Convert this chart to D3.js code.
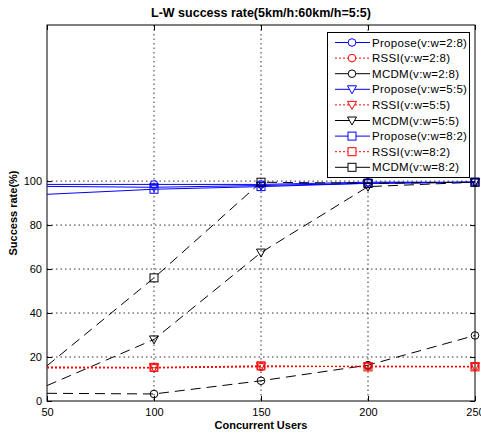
<!DOCTYPE html>
<html><head><meta charset="utf-8">
<script src="https://cdn.jsdelivr.net/npm/d3@7"></script>
<style>body{margin:0;background:#fff}svg{display:block}text{font-family:"Liberation Sans",Arial,sans-serif}</style>
</head><body><svg id="c" width="481" height="435"></svg>
<script>
const users = [50, 100, 150, 200, 250];
const xTicks = [50, 100, 150, 200, 250];
const yTicks = [0, 20, 40, 60, 80, 100];
const titleText = "L-W success rate(5km/h:60km/h=5:5)";
const xLabel = "Concurrent Users";
const yLabel = "Success rate(%)";

const propose28 = [98.5, 98.5, 98.5, 99.5, 99.5];
const rssi28    = [15.2, 15.0, 15.5, 15.8, 15.6];
const mcdm28    = [3.5, 3.2, 9.2, 16.3, 29.8];
const propose55 = [97.6, 97.2, 98, 99, 99.5];
const rssi55    = [15.0, 15.2, 15.8, 15.8, 15.8];
const mcdm55    = [7, 28, 67.5, 97.5, 99.5];
const propose82 = [94, 96.3, 97.5, 99, 99.5];
const rssi82    = [15.5, 15.3, 16, 15.5, 15.5];
const mcdm82    = [16, 56, 99.5, 99, 99.5];

const seriesNames = ["Propose(v:w=2:8)","RSSI(v:w=2:8)","MCDM(v:w=2:8)",
  "Propose(v:w=5:5)","RSSI(v:w=5:5)","MCDM(v:w=5:5)",
  "Propose(v:w=8:2)","RSSI(v:w=8:2)","MCDM(v:w=8:2)"];
const seriesValues = [propose28, rssi28, mcdm28, propose55, rssi55, mcdm55, propose82, rssi82, mcdm82];
const seriesColor = ["#0000ff","#ff0000","#000000","#0000ff","#ff0000","#000000","#0000ff","#ff0000","#000000"];
const seriesMarker = ["circle","circle","circle","triangle","triangle","triangle","square","square","square"];
const seriesDash = [null,"2,2","10,6",null,"2,2","10,6",null,"2,2","10,6"];
const legendDash = [null,"2,2",null,null,"2,2",null,null,"2,2",null];

const svg = d3.select("#c");
const L = 47, R = 475, T = 25, B = 401;
const x = d3.scaleLinear().domain([50, 250]).range([L, R]);
const y = d3.scaleLinear().domain([0, 171]).range([B, T]);

// grid
const g = svg.append("g");
g.selectAll(".hg").data(yTicks.filter(v => v > 0)).join("line")
  .attr("x1", L).attr("x2", R).attr("y1", d => y(d)).attr("y2", d => y(d))
  .attr("stroke", "#000").attr("stroke-width", 1).attr("stroke-dasharray", "1.5,3").attr("opacity", 0.8);
g.selectAll(".vg").data(xTicks.filter(v => v > 50 && v < 250)).join("line")
  .attr("y1", T).attr("y2", B).attr("x1", d => x(d)).attr("x2", d => x(d))
  .attr("stroke", "#000").attr("stroke-width", 1).attr("stroke-dasharray", "1.5,3").attr("opacity", 0.8);

// axes
const ax = svg.append("g").attr("transform", `translate(0,${B})`)
  .call(d3.axisBottom(x).tickValues(xTicks).tickSize(-5).tickPadding(7).tickFormat(d3.format("d")));
const ay = svg.append("g").attr("transform", `translate(${L},0)`)
  .call(d3.axisLeft(y).tickValues(yTicks).tickSize(-5).tickPadding(5));
svg.append("g").attr("transform", `translate(0,${T})`)
  .call(d3.axisTop(x).tickValues(xTicks).tickSize(-5).tickFormat(""));
svg.append("g").attr("transform", `translate(${R},0)`)
  .call(d3.axisRight(y).tickValues(yTicks).tickSize(-5).tickFormat(""));
svg.selectAll(".domain").remove();
svg.selectAll(".tick line").attr("stroke", "#000");
svg.selectAll(".tick text").attr("font-size", 11).attr("fill", "#000")
  .attr("font-family", '"Liberation Sans",Arial,sans-serif');
svg.append("rect").attr("x", L).attr("y", T).attr("width", R - L).attr("height", B - T)
  .attr("fill", "none").attr("stroke", "#000").attr("stroke-width", 1);

// markers
function drawMarker(sel, type, color) {
  if (type === "circle") {
    sel.append("circle").attr("r", 3.8).attr("fill", "none").attr("stroke", color).attr("stroke-width", 1);
  } else if (type === "triangle") {
    sel.append("path").attr("d", "M-4.5,-3.5L4.5,-3.5L0,4.5Z").attr("fill", "none").attr("stroke", color).attr("stroke-width", 1);
  } else {
    sel.append("rect").attr("x", -4).attr("y", -4).attr("width", 8).attr("height", 8)
      .attr("fill", "none").attr("stroke", color).attr("stroke-width", 1);
  }
}

const line = d3.line().x(d => x(d.x)).y(d => y(d.v));
seriesValues.forEach((vals, i) => {
  const pts = users.map((u, k) => ({x: u, v: vals[k]}));
  svg.append("path").datum(pts).attr("d", line).attr("fill", "none")
    .attr("stroke", seriesColor[i]).attr("stroke-width", 1)
    .attr("stroke-dasharray", seriesDash[i]);
  pts.filter(p => p.x > 50).forEach(p => {
    const m = svg.append("g").attr("transform", `translate(${x(p.x)},${y(p.v)})`);
    drawMarker(m, seriesMarker[i], seriesColor[i]);
  });
});

// legend
const lg = svg.append("g");
lg.append("rect").attr("x", 327.5).attr("y", 32.5).attr("width", 142).attr("height", 145)
  .attr("fill", "#fff").attr("stroke", "#000").attr("stroke-width", 1);
seriesNames.forEach((name, i) => {
  const yy = 42.5 + i * 15.6;
  lg.append("line").attr("x1", 335).attr("x2", 370).attr("y1", yy).attr("y2", yy)
    .attr("stroke", seriesColor[i]).attr("stroke-width", 1).attr("stroke-dasharray", legendDash[i]);
  const m = lg.append("g").attr("transform", `translate(352,${yy})`);
  drawMarker(m, seriesMarker[i], seriesColor[i]);
  m.selectAll("*").attr("fill", "#fff");
  lg.append("text").attr("x", 372).attr("y", yy + 4).attr("font-size", 11.5)
    .attr("letter-spacing", 0.3).attr("fill", "#000").text(name);
});

// labels
svg.append("text").attr("x", 261).attr("y", 17).attr("text-anchor", "middle")
  .attr("font-size", 12.5).attr("font-weight", "bold").text(titleText);
svg.append("text").attr("x", 261).attr("y", 429).attr("text-anchor", "middle")
  .attr("font-size", 11).attr("font-weight", "bold").text(xLabel);
svg.append("text").attr("transform", `translate(17,${(T + B) / 2}) rotate(-90)`)
  .attr("text-anchor", "middle").attr("font-size", 11).attr("font-weight", "bold").text(yLabel);
</script></body></html>
